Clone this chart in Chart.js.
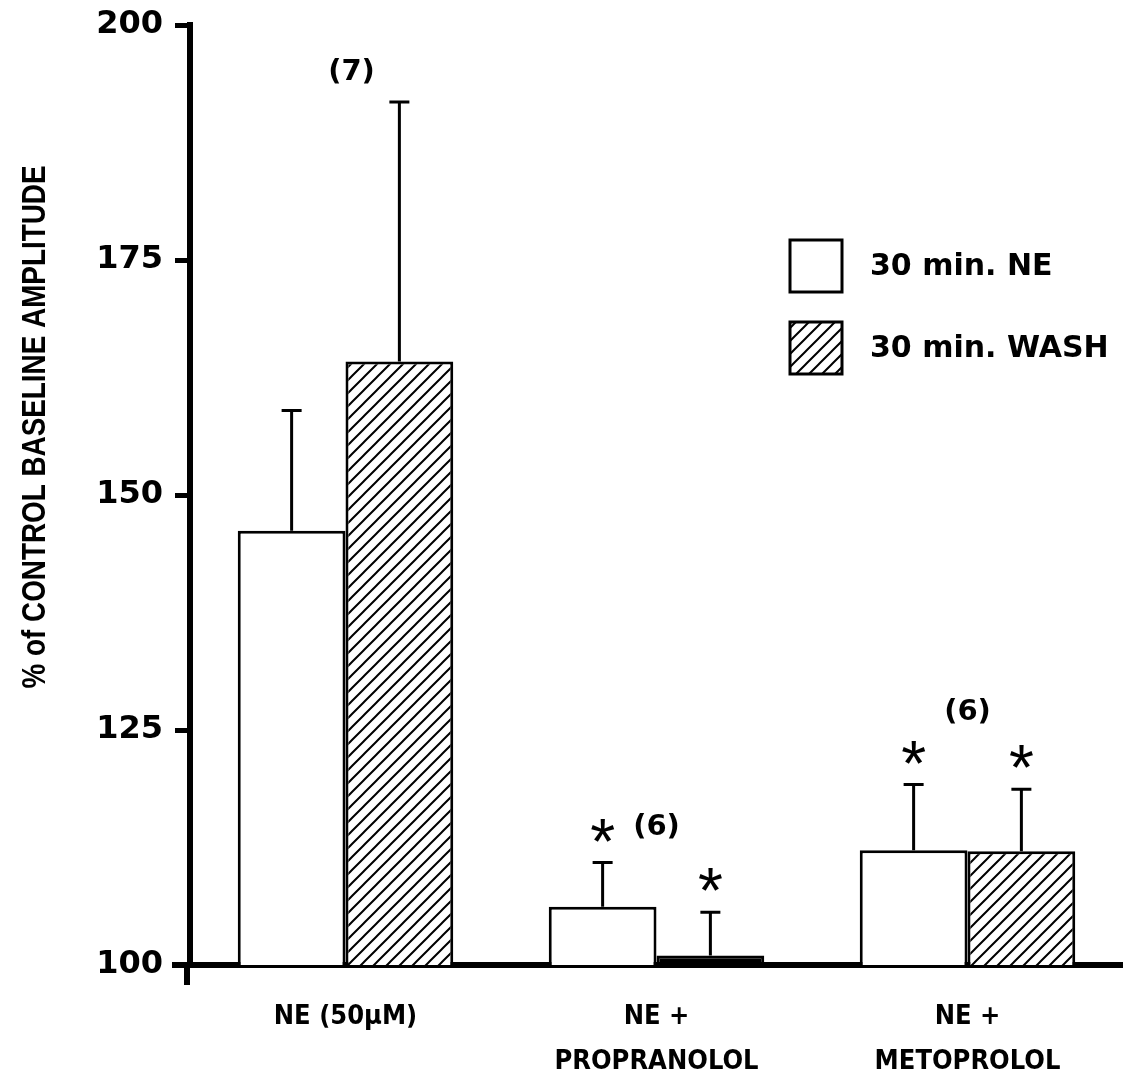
<!DOCTYPE html>
<html lang="en">
<head>
    <meta charset="UTF-8">
    <title>% of control baseline amplitude</title>
    <script src="https://cdn.jsdelivr.net/npm/chart.js@4.4.0/dist/chart.umd.min.js"></script>
    <style>
        html, body { margin: 0; padding: 0; background: #fff; }
        #wrap { width: 1123px; height: 1079px; }
    </style>
</head>
<body>
    <div id="wrap"><canvas id="chart" width="1123" height="1079"></canvas></div>
    <script>
        // categorias y valores
        const categorias = [['NE (50µM)'], ['NE +', 'PROPRANOLOL'], ['NE +', 'METOPROLOL']];
        const serieNE = [146.2, 106.2, 112.2];
        const serieWash = [164.2, 101.0, 112.1];
        const errNE = [12.8, 4.7, 7.0];
        const errWash = [27.6, 4.6, 6.6];
        const estrellaNE = [false, true, true];
        const estrellaWash = [false, true, true];
        const nCasos = ['(7)', '(6)', '(6)'];
        const ticksY = [100, 125, 150, 175, 200];
        const nombres = ['30 min. NE', '30 min. WASH'];

        const fuente = '"DejaVu Sans", "Liberation Sans", sans-serif';
        const fuenteAngosta = '"DejaVu Sans Condensed", "Liberation Sans", sans-serif';

        // patron de rayas diagonales
        function rayado() {
            const c = document.createElement('canvas');
            const n = 13;
            c.width = n; c.height = n;
            const g = c.getContext('2d');
            g.fillStyle = '#fff';
            g.fillRect(0, 0, n, n);
            g.strokeStyle = '#000';
            g.lineWidth = 2;
            g.beginPath();
            g.moveTo(-2, n + 2); g.lineTo(n + 2, -2);
            g.moveTo(-2, 2); g.lineTo(2, -2);
            g.moveTo(n - 2, n + 2); g.lineTo(n + 2, n - 2);
            g.stroke();
            return g.createPattern(c, 'repeat');
        }
        const patron = rayado();

        // barras de error, asteriscos, (n), titulo y leyenda
        const extras = {
            id: 'extras',
            afterDatasetsDraw(chart, args, opts) {
                const ctx = chart.ctx;
                const y = chart.scales.y;
                const errores = [errNE, errWash];
                const estrellas = [estrellaNE, estrellaWash];
                ctx.save();
                chart.data.datasets.forEach((ds, i) => {
                    const meta = chart.getDatasetMeta(i);
                    meta.data.forEach((bar, j) => {
                        const top = y.getPixelForValue(ds.data[j] + errores[i][j]);
                        const base = y.getPixelForValue(ds.data[j]);
                        ctx.strokeStyle = '#000';
                        ctx.lineWidth = 3;
                        ctx.beginPath();
                        ctx.moveTo(bar.x, base);
                        ctx.lineTo(bar.x, top);
                        ctx.moveTo(bar.x - 10, top);
                        ctx.lineTo(bar.x + 10, top);
                        ctx.stroke();
                        if (estrellas[i][j]) {
                            ctx.fillStyle = '#000';
                            ctx.font = '64px "Liberation Sans", sans-serif';
                            ctx.textAlign = 'center';
                            ctx.textBaseline = 'alphabetic';
                            ctx.fillText('*', bar.x, top + 1);
                        }
                    });
                });

                // (n) por grupo
                const x = chart.scales.x;
                ctx.fillStyle = '#000';
                ctx.font = 'bold 29px ' + fuente;
                ctx.textAlign = 'center';
                ctx.textBaseline = 'middle';
                nCasos.forEach((t, j) => {
                    ctx.fillText(t, x.getPixelForValue(j) + opts.dx[j], y.getPixelForValue(opts.at[j]));
                });

                // titulo del eje y (angosto)
                const titulo = '% of CONTROL BASELINE AMPLITUDE';
                ctx.save();
                ctx.translate(36, 427);
                ctx.rotate(-Math.PI / 2);
                ctx.font = 'bold 34px "Liberation Sans", sans-serif';
                ctx.scale(523 / ctx.measureText(titulo).width, 1);
                ctx.fillText(titulo, 0, 0);
                ctx.restore();

                // prolongacion del eje y bajo el eje x
                const a = chart.chartArea;
                ctx.lineWidth = 6;
                ctx.beginPath();
                ctx.moveTo(a.left - 3, a.bottom);
                ctx.lineTo(a.left - 3, a.bottom + 20);
                ctx.moveTo(a.left - 18, a.bottom);
                ctx.lineTo(a.left, a.bottom);
                ctx.stroke();

                // leyenda
                const fondos = ['#fff', patron];
                ctx.textAlign = 'left';
                ctx.font = 'bold 30px ' + fuente;
                nombres.forEach((n, k) => {
                    const by = 240 + k * 82;
                    ctx.fillStyle = fondos[k];
                    ctx.fillRect(790, by, 52, 52);
                    ctx.lineWidth = 3;
                    ctx.strokeRect(790, by, 52, 52);
                    ctx.fillStyle = '#000';
                    ctx.fillText(n, 870, by + 27);
                });
                ctx.restore();
            }
        };

        new Chart(document.getElementById('chart'), {
            type: 'bar',
            data: {
                labels: categorias,
                datasets: [{
                    label: nombres[0],
                    data: serieNE,
                    backgroundColor: '#fff',
                    borderColor: '#000',
                    borderWidth: 3,
                    borderSkipped: 'bottom'
                }, {
                    label: nombres[1],
                    data: serieWash,
                    backgroundColor: [patron, '#000', patron],
                    borderColor: '#000',
                    borderWidth: 3,
                    borderSkipped: 'bottom'
                }]
            },
            plugins: [extras],
            options: {
                responsive: false,
                animation: false,
                layout: { padding: { top: 25, right: 0, left: 0, bottom: 0 } },
                datasets: { bar: { categoryPercentage: 0.693, barPercentage: 1.0 } },
                plugins: {
                    legend: { display: false },
                    tooltip: { enabled: false },
                    extras: { at: [195.0, 114.6, 126.9], dx: [6, 0, 0] }
                },
                scales: {
                    x: {
                        grid: { display: false },
                        border: { color: '#000', width: 6 },
                        ticks: {
                            color: '#000',
                            font: { family: fuenteAngosta, size: 27, weight: 'bold', lineHeight: 1.65 },
                            padding: 22,
                            maxRotation: 0
                        },
                        afterFit: s => { s.height = 114; }
                    },
                    y: {
                        min: 100,
                        max: 200,
                        afterBuildTicks: s => { s.ticks = ticksY.map(v => ({ value: v })); },
                        grid: { drawOnChartArea: false, color: '#000', tickLength: 15, tickWidth: 5 },
                        border: { color: '#000', width: 6 },
                        ticks: {
                            color: '#000',
                            font: { family: fuente, size: 32, weight: 'bold', lineHeight: 1.0 },
                            padding: 12
                        },
                        afterFit: s => { s.width = 190; s.paddingTop = 0; }
                    }
                }
            }
        });
    </script>
</body>
</html>
